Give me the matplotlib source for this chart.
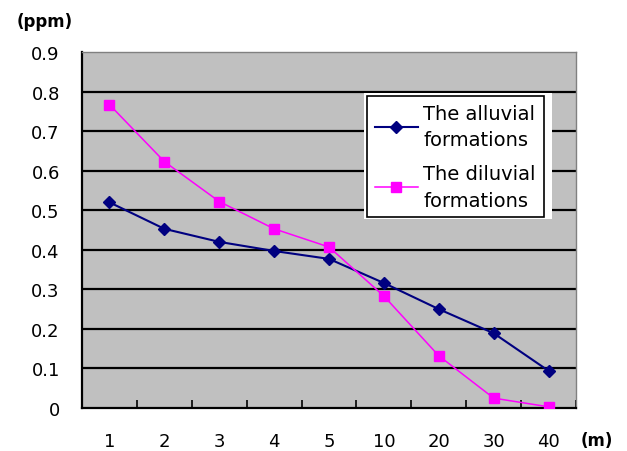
import numpy as np
import matplotlib.pyplot as plt
from matplotlib.patches import Rectangle

# depth categories (m) and concentrations (ppm)
depth = ['1', '2', '3', '4', '5', '10', '20', '30', '40']
alluvial = [0.52, 0.453, 0.42, 0.397, 0.377, 0.316, 0.25, 0.189, 0.094]
diluvial = [0.767, 0.623, 0.522, 0.453, 0.407, 0.283, 0.132, 0.025, 0.003]
yticks = [0, 0.1, 0.2, 0.3, 0.4, 0.5, 0.6, 0.7, 0.8, 0.9]

plt.rcParams['font.family'] = ['DejaVu Sans']

fig = plt.figure(figsize=(6.27, 4.52), dpi=100)
ax = fig.add_axes([0.1308, 0.0951, 0.7879, 0.7876])
ax.set_facecolor('#c0c0c0')

x = np.arange(len(depth))
ax.plot(x, alluvial, color='#000080', lw=1.5, marker='D', ms=6.5,
        label='The alluvial\nformations', zorder=3)
ax.plot(x, diluvial, color='#ff00ff', lw=1.1, marker='s', ms=7,
        label='The diluvial\nformations', zorder=3)

ax.set_xlim(-0.5, len(depth) - 0.5)
ax.set_ylim(0, 0.9)
ax.set_yticks(yticks)
ax.set_yticklabels(['0'] + ['%.1f' % v for v in yticks[1:]])
ax.set_xticks(x)
ax.set_xticklabels(depth)
ax.set_xticks(np.arange(-0.5, len(depth)), minor=True)
ax.tick_params(axis='x', which='major', length=0, pad=17, labelsize=13)
ax.tick_params(axis='x', which='minor', direction='in', length=6, width=1.2, color='black')
ax.tick_params(axis='y', length=0, pad=16, labelsize=13)

for v in yticks[1:-1]:
    ax.axhline(v, color='black', lw=1.6, zorder=1)

ax.spines['left'].set_linewidth(1.6)
ax.spines['bottom'].set_linewidth(1.6)
ax.spines['top'].set_color('#808080')
ax.spines['right'].set_color('#808080')
ax.spines['top'].set_linewidth(1.0)
ax.spines['right'].set_linewidth(1.0)

# white margin behind the legend box
ax.add_patch(Rectangle((0.571, 0.530), 0.38, 0.355, transform=ax.transAxes,
                       facecolor='white', edgecolor='none', zorder=4))
leg = ax.legend(loc='upper left', bbox_to_anchor=(0.577, 0.876), fontsize=14,
                frameon=True, fancybox=False, framealpha=1, edgecolor='black',
                borderpad=0.4, handlelength=2.2, handletextpad=0.3,
                labelspacing=0.75, borderaxespad=0)
for t in leg.get_texts():
    t.set_linespacing(1.5)
leg.set_zorder(5)
leg.get_frame().set_linewidth(1.2)

fig.text(45 / 627, 1 - 22 / 452, '(ppm)', fontsize=12, fontweight='bold',
         ha='center', va='center')
fig.text(597 / 627, 1 - 441 / 452, '(m)', fontsize=12, fontweight='bold',
         ha='center', va='center')

fig.savefig('out.png', dpi=100)
